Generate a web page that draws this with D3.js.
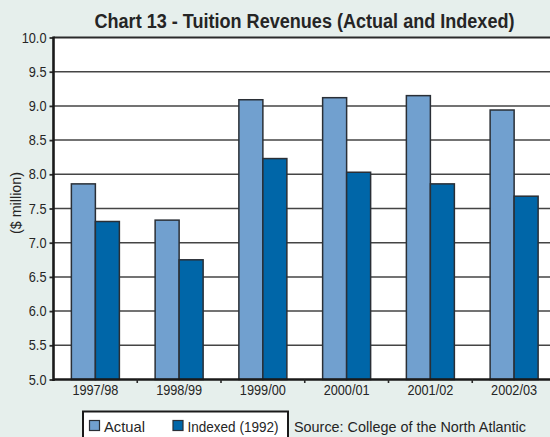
<!DOCTYPE html>
<html>
<head>
<meta charset="utf-8">
<script src="https://cdn.jsdelivr.net/npm/d3@7"></script>
<style>
  html, body { margin: 0; padding: 0; background: #e6efec; }
  svg { display: block; }
  text { font-family: "Liberation Sans", Arial, sans-serif; fill: #252525; }
</style>
</head>
<body>
<svg id="chart" width="550" height="437"></svg>
<script>
const categories = ["1997/98", "1998/99", "1999/00", "2000/01", "2001/02", "2002/03"];
const seriesNames = ["Actual", "Indexed (1992)"];
const actual = [7.86, 7.33, 9.09, 9.12, 9.15, 8.94];
const indexed = [7.31, 6.75, 8.23, 8.03, 7.86, 7.68];
const yTicks = [5.0, 5.5, 6.0, 6.5, 7.0, 7.5, 8.0, 8.5, 9.0, 9.5, 10.0];
const colors = ["#71a0cf", "#0066a8"];
const titleText = "Chart 13 - Tuition Revenues (Actual and Indexed)";
const yLabel = "($ million)";
const sourceText = "Source: College of the North Atlantic";

(function () {
const FONT = '"Liberation Sans", Arial, sans-serif';
function condense(sel, f) {
  sel.each(function () {
    const L = this.getComputedTextLength();
    d3.select(this).attr("textLength", L * f).attr("lengthAdjust", "spacingAndGlyphs");
  });
}
function fitTo(sel, w) {
  sel.attr("textLength", w).attr("lengthAdjust", "spacingAndGlyphs");
}

const svg = d3.select("#chart");
const W = 550, H = 437;
svg.append("rect").attr("width", W).attr("height", H).attr("fill", "#e6efec");

const pLeft = 53.5, pRight = 556, pTop = 37.5, pBottom = 379.5;

const x0 = d3.scaleBand().domain(categories).range([pLeft, pRight]).padding(0);
const groupW = 48;
const x1 = d3.scaleBand().domain(seriesNames)
  .range([(x0.bandwidth() - groupW) / 2, (x0.bandwidth() + groupW) / 2]).padding(0);
const y = d3.scaleLinear().domain([5, 10]).range([pBottom, pTop]);

svg.append("rect").attr("x", pLeft).attr("y", pTop)
  .attr("width", pRight - pLeft).attr("height", pBottom - pTop).attr("fill", "#ffffff");

svg.append("g").selectAll("line").data(yTicks.filter(t => t > 5 && t < 10)).join("line")
  .attr("x1", pLeft).attr("x2", pRight)
  .attr("y1", d => y(d)).attr("y2", d => y(d))
  .attr("stroke", "#444").attr("stroke-width", 1.5);
svg.append("line").attr("x1", pLeft).attr("x2", pRight).attr("y1", y(10)).attr("y2", y(10))
  .attr("stroke", "#2a2a2a").attr("stroke-width", 2);

const rows = categories.map((c, i) => ({ cat: c, vals: [actual[i], indexed[i]] }));
const g = svg.append("g").selectAll("g").data(rows).join("g")
  .attr("transform", d => `translate(${x0(d.cat)},0)`);
g.selectAll("rect").data(d => d.vals.map((v, j) => ({ v, s: seriesNames[j], j }))).join("rect")
  .attr("x", d => x1(d.s))
  .attr("y", d => y(d.v))
  .attr("width", x1.bandwidth())
  .attr("height", d => y(5) - y(d.v))
  .attr("fill", d => colors[d.j])
  .attr("stroke", "#2a2f36").attr("stroke-width", 1.5);

const yAxis = d3.axisLeft(y).tickValues(yTicks).tickFormat(d3.format(".1f")).tickSize(4).tickPadding(3);
const ya = svg.append("g").attr("transform", `translate(${pLeft},0)`).call(yAxis);
ya.select(".domain").remove();
ya.selectAll(".tick line").attr("stroke", "#2a2a2a").attr("stroke-width", 1.8);
const ytxt = ya.selectAll(".tick text").attr("font-size", 14.5).attr("fill", "#252525")
  .style("font-family", FONT);
condense(ytxt, 0.88);
svg.append("line").attr("x1", pLeft).attr("x2", pLeft).attr("y1", pTop - 1).attr("y2", pBottom + 1.5)
  .attr("stroke", "#1a1a1a").attr("stroke-width", 2.6);

const xa = svg.append("g").attr("transform", `translate(0,${pBottom})`)
  .call(d3.axisBottom(x0).tickSize(0).tickPadding(5.5));
xa.select(".domain").remove();
const xtxt = xa.selectAll(".tick text").attr("font-size", 14.5).attr("fill", "#252525")
  .style("font-family", FONT);
fitTo(xtxt, 46);
svg.append("line").attr("x1", pLeft).attr("x2", pRight).attr("y1", pBottom).attr("y2", pBottom)
  .attr("stroke", "#1a1a1a").attr("stroke-width", 2.6);
svg.append("g").selectAll("line").data(categories.slice(1)).join("line")
  .attr("x1", d => x0(d)).attr("x2", d => x0(d))
  .attr("y1", pBottom).attr("y2", pBottom + 3.5)
  .attr("stroke", "#2a2a2a").attr("stroke-width", 1.6);

const yl = svg.append("text").attr("transform", `translate(21,203) rotate(-90)`)
  .attr("text-anchor", "middle").attr("font-size", 14).text(yLabel);
fitTo(yl, 62);

const tt = svg.append("text").attr("x", 304.5).attr("y", 27.5).attr("text-anchor", "middle")
  .attr("font-size", 19.5).attr("font-weight", "bold").attr("fill", "#252525")
  .text(titleText);
fitTo(tt, 420);

const lg = svg.append("g");
lg.append("rect").attr("x", 83).attr("y", 411.5).attr("width", 205).attr("height", 27)
  .attr("fill", "#ffffff").attr("stroke", "#1a1a1a").attr("stroke-width", 2);
const legendX = [89.5, 173];
const legendW = [41, 91];
seriesNames.forEach((s, i) => {
  lg.append("rect").attr("x", legendX[i]).attr("y", 420.5).attr("width", 10).attr("height", 10)
    .attr("fill", colors[i]).attr("stroke", "#2a2f36").attr("stroke-width", 1.2);
  const t = lg.append("text").attr("x", legendX[i] + 14.5).attr("y", 431.5).attr("font-size", 15).text(s);
  fitTo(t, legendW[i]);
});
const st = svg.append("text").attr("x", 294).attr("y", 431.5).attr("font-size", 15).text(sourceText);
fitTo(st, 232);
})();
</script>
</body>
</html>
